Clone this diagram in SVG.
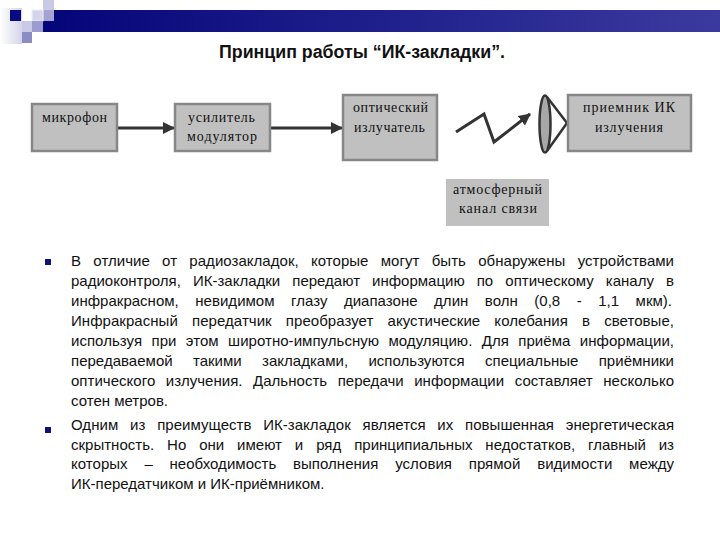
<svg xmlns="http://www.w3.org/2000/svg" width="720" height="540" viewBox="0 0 720 540">
<defs>
<linearGradient id="bar" x1="0" y1="0" x2="1" y2="0">
<stop offset="0" stop-color="#05057a"/>
<stop offset="1" stop-color="#3a3a9e"/>
</linearGradient>
<linearGradient id="fade" x1="0" y1="0" x2="1" y2="0">
<stop offset="0" stop-color="#ffffff"/>
<stop offset="1" stop-color="#d4d4ea"/>
</linearGradient>
<marker id="ah" viewBox="0 0 12 12" refX="11" refY="6" markerWidth="12" markerHeight="12" markerUnits="userSpaceOnUse" orient="auto">
<path d="M0,0 L12,6 L0,12 Z" fill="#333"/>
</marker>
<style>
.box{fill:#c0c0c0;stroke:#878787;stroke-width:2.5}
.lbl{font-family:"Liberation Serif","Times New Roman",serif;font-size:14px;fill:#111}
.con{stroke:#333;stroke-width:3;fill:none}
.body{font-family:"Liberation Sans",Arial,sans-serif;font-size:15px;fill:#111}
.bul{fill:#10107a}
</style>
</defs>
<rect width="720" height="540" fill="#fff"/>
<g id="header">
<rect x="0" y="8" width="22" height="36" fill="url(#fade)"/>
<rect x="43" y="10" width="677" height="22" fill="url(#bar)"/>
<rect x="43" y="0" width="11" height="10" fill="#cacae6"/>
<rect x="43" y="10" width="11" height="11" fill="#a4a4d2"/>
<rect x="32" y="10" width="11" height="11" fill="#d4d4ec" stroke="#f0f0f8" stroke-width="1"/>
<rect x="32" y="21" width="11" height="11" fill="#9c9cce"/>
<rect x="22" y="21" width="10" height="11" fill="#cacae6"/>
<rect x="22" y="32" width="10" height="11" fill="#8c8cc4"/>
<rect x="10" y="10" width="11" height="11" fill="#0a0a80"/>
</g>
<text x="219" y="58" font-family="Liberation Sans, Arial, sans-serif" font-size="17.5" font-weight="bold" fill="#111" textLength="286" lengthAdjust="spacingAndGlyphs">Принцип работы “ИК-закладки”.</text>
<g id="connectors">
<line class="con" x1="117" y1="128" x2="174" y2="128" marker-end="url(#ah)"/>
<line class="con" x1="270" y1="128" x2="342" y2="128" marker-end="url(#ah)"/>
<polyline class="con" points="456,132 484,114 494,142 530,114" marker-end="url(#ah)"/>
</g>
<g id="mic">
<rect class="box" x="32" y="104" width="85" height="47"/>
<text class="lbl" x="42" y="122" textLength="65" lengthAdjust="spacing">микрофон</text>
</g>
<g id="amp">
<rect class="box" x="175" y="104" width="95" height="47"/>
<text class="lbl" x="188" y="122" textLength="67" lengthAdjust="spacing">усилитель</text>
<text class="lbl" x="187" y="141" textLength="70" lengthAdjust="spacing">модулятор</text>
</g>
<g id="emitter">
<rect class="box" x="343" y="95" width="94" height="65"/>
<text class="lbl" x="353" y="112" textLength="75" lengthAdjust="spacing">оптический</text>
<text class="lbl" x="354" y="132" textLength="71" lengthAdjust="spacing">излучатель</text>
</g>
<g id="lens">
<line x1="547" y1="97" x2="567" y2="123" stroke="#333" stroke-width="2.5"/>
<line x1="547" y1="151" x2="567" y2="123" stroke="#333" stroke-width="2.5"/>
<ellipse cx="545" cy="124" rx="5.5" ry="28.5" fill="#a8a8a8" stroke="#333" stroke-width="2.5"/>
</g>
<g id="receiver">
<rect class="box" x="568" y="95" width="123" height="56"/>
<text class="lbl" x="583" y="112" textLength="92" lengthAdjust="spacing">приемник ИК</text>
<text class="lbl" x="595" y="132" textLength="68" lengthAdjust="spacing">излучения</text>
</g>
<g id="channel">
<rect x="446" y="179" width="103" height="47" fill="#c0c0c0"/>
<text class="lbl" x="453" y="194" textLength="89" lengthAdjust="spacing">атмосферный</text>
<text class="lbl" x="459" y="213" textLength="78" lengthAdjust="spacing">канал связи</text>
</g>
<g id="text">
<rect class="bul" x="45" y="259" width="6" height="6"/>
<rect class="bul" x="45" y="427" width="6" height="6"/>
<text class="body" x="71" y="266" word-spacing="8.1" textLength="603" lengthAdjust="spacing">В отличие от радиозакладок, которые могут быть обнаружены устройствами</text>
<text class="body" x="71" y="286" word-spacing="7.9" textLength="603" lengthAdjust="spacing">радиоконтроля, ИК-закладки передают информацию по оптическому каналу в</text>
<text class="body" x="71" y="306" word-spacing="12.3" textLength="601" lengthAdjust="spacing">инфракрасном, невидимом глазу диапазоне длин волн (0,8 - 1,1 мкм).</text>
<text class="body" x="71" y="326" word-spacing="9.9" textLength="603" lengthAdjust="spacing">Инфракрасный передатчик преобразует акустические колебания в световые,</text>
<text class="body" x="71" y="346" word-spacing="5.2" textLength="603" lengthAdjust="spacing">используя при этом широтно-импульсную модуляцию. Для приёма информации,</text>
<text class="body" x="71" y="366" word-spacing="16.1" textLength="603" lengthAdjust="spacing">передаваемой такими закладками, используются специальные приёмники</text>
<text class="body" x="71" y="386" word-spacing="6.3" textLength="603" lengthAdjust="spacing">оптического излучения. Дальность передачи информации составляет несколько</text>
<text class="body" x="71" y="406">сотен метров.</text>
<text class="body" x="71" y="430" word-spacing="7.6" textLength="603" lengthAdjust="spacing">Одним из преимуществ ИК-закладок является их повышенная энергетическая</text>
<text class="body" x="71" y="450" word-spacing="8.7" textLength="603" lengthAdjust="spacing">скрытность. Но они имеют и ряд принципиальных недостатков, главный из</text>
<text class="body" x="71" y="469" word-spacing="12.6" textLength="603" lengthAdjust="spacing">которых – необходимость выполнения условия прямой видимости между</text>
<text class="body" x="71" y="489">ИК-передатчиком и ИК-приёмником.</text>
</g>
</svg>
